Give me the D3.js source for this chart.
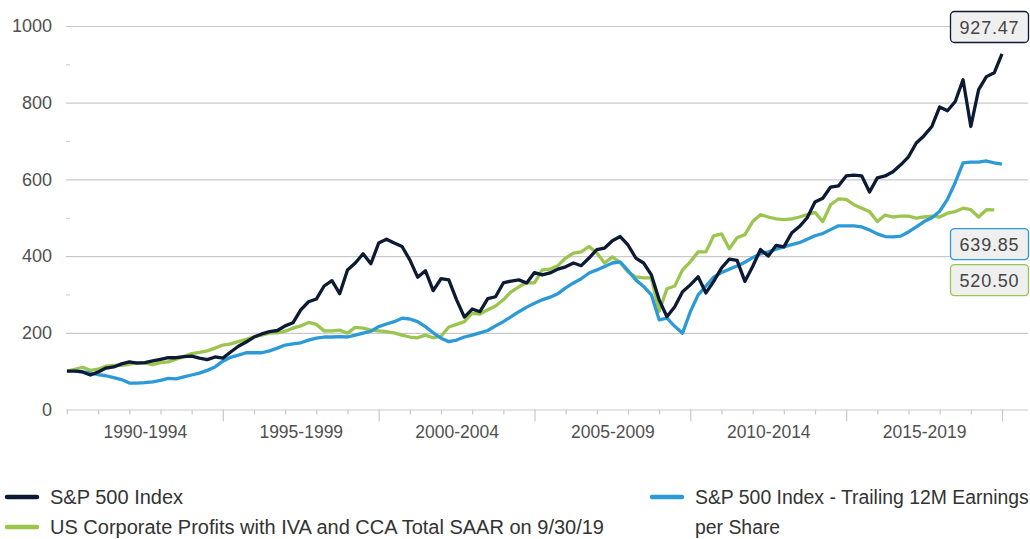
<!DOCTYPE html>
<html>
<head>
<meta charset="utf-8">
<script src="https://cdn.jsdelivr.net/npm/d3@7"></script>
<style>
  body { margin: 0; background: #fff; }
  svg { font-family: "Liberation Sans", Arial, sans-serif; }
</style>
</head>
<body>
<script>
// quarterly index values, start = 100
var periods = ["1990-1994", "1995-1999", "2000-2004", "2005-2009", "2010-2014", "2015-2019"];

var sp500 = [100, 100, 98, 90, 98, 108, 111, 119, 124, 121, 122, 127, 131, 135, 135, 138, 139, 134, 130, 137,
  134, 150, 165, 176, 189, 197, 203, 206, 218, 226, 260, 281, 288, 322, 336, 302, 364, 382, 406, 380,
  434, 444, 434, 425, 390, 345, 362, 310, 341, 338, 286, 241, 262, 255, 289, 294, 330, 335, 338, 330,
  357, 351, 356, 366, 372, 382, 375, 395, 417, 421, 440, 451, 429, 395, 382, 351, 286, 242, 268, 307,
  325, 346, 304, 334, 369, 392, 389, 334, 373, 417, 400, 428, 424, 460, 477, 500, 541, 551, 580, 583,
  609, 611, 609, 567, 604, 609, 620, 638, 659, 695, 714, 738, 789, 779, 803, 860, 738, 834, 868, 878,
  927.47];

var profits = [100, 105, 110, 102, 105, 113, 115, 115, 118, 122, 121, 117, 122, 124, 131, 138, 146, 149, 153, 160,
  168, 171, 177, 183, 189, 194, 199, 200, 204, 212, 218, 227, 222, 205, 205, 207, 199, 214, 212, 207,
  205, 203, 200, 194, 189, 187, 194, 187, 191, 215, 222, 229, 251, 249, 260, 270, 286, 307, 320, 331,
  330, 364, 366, 375, 395, 408, 411, 425, 408, 382, 398, 383, 359, 346, 343, 343, 256, 315, 322, 364,
  385, 411, 411, 453, 458, 419, 448, 456, 490, 508, 502, 497, 495, 497, 502, 508, 514, 490, 534, 549,
  548, 534, 525, 516, 490, 507, 502, 504, 504, 499, 502, 504, 502, 512, 516, 525, 521, 502, 521, 520.5];

// earnings series starts one quarter later
var earnings = [null, 101, 98, 95, 91, 88, 83, 78, 69, 69, 70, 72, 76, 81, 80, 85, 90, 95, 102, 111,
  126, 136, 142, 148, 148, 148, 153, 160, 168, 171, 174, 181, 186, 189, 189, 190, 189, 194, 199, 204,
  216, 223, 229, 238, 236, 229, 216, 200, 186, 177, 181, 189, 194, 200, 206, 218, 229, 242, 255, 267,
  277, 286, 293, 302, 317, 330, 341, 356, 364, 373, 382, 385, 362, 338, 321, 299, 234, 238, 217, 199,
  255, 299, 322, 345, 357, 366, 374, 384, 396, 406, 411, 418, 424, 430, 435, 444, 453, 459, 469, 479,
  479, 479, 476, 468, 458, 451, 450, 452, 463, 476, 490, 500, 517, 548, 592, 643, 645, 645, 648, 643,
  639.85];

var yTicks = [0, 200, 400, 600, 800, 1000];
var yMinor = [100, 300, 500, 700, 900];

var legendNames = ["S&P 500 Index", "US Corporate Profits with IVA and CCA Total SAAR on 9/30/19",
  "S&P 500 Index - Trailing 12M Earnings", "per Share"];

var cNavy = "#0c1a33", cGreen = "#9bc54e", cBlue = "#2b9ad6";

var width = 1030, height = 539;
var svg = d3.select("body").append("svg")
  .attr("width", width)
  .attr("height", height);

var x = d3.scaleLinear().domain([0, 120]).range([67, 1002]);
var y = d3.scaleLinear().domain([0, 1000]).range([409.5, 26]);
var left = 66, right = 1028;

// grid lines + y labels
var yAxis = svg.append("g")
  .attr("transform", "translate(" + left + ",0)")
  .call(d3.axisLeft(y).tickValues(yTicks).tickSize(-(right - left)).tickPadding(14).tickFormat(d3.format("d")));
yAxis.select(".domain").remove();
yAxis.selectAll("line").attr("stroke", "#c9c9c9").attr("stroke-width", 1.2);
yAxis.selectAll("text").attr("fill", "#505050").style("font-size", "18px");

var yMin = svg.append("g")
  .attr("transform", "translate(" + left + ",0)")
  .call(d3.axisLeft(y).tickValues(yMinor).tickSize(-4).tickFormat(""));
yMin.select(".domain").remove();
yMin.selectAll("line").attr("stroke", "#c9c9c9");

// x ticks: yearly, long ones every five years
var yearTicks = d3.range(0, 121, 4);
var xAxis = svg.append("g")
  .attr("transform", "translate(0," + y(0) + ")")
  .call(d3.axisBottom(x).tickValues(yearTicks).tickFormat(""));
xAxis.select(".domain").remove();
xAxis.selectAll("line")
  .attr("stroke", "#c9c9c9").attr("stroke-width", 1.2)
  .attr("y2", function(d) { return d % 20 == 0 && d > 0 ? 12 : 5; });

var xLab = svg.append("g")
  .attr("transform", "translate(0," + y(0) + ")")
  .call(d3.axisBottom(x).tickValues(d3.range(10, 120, 20)).tickSize(0).tickPadding(16)
    .tickFormat(function(d, i) { return periods[i]; }));
xLab.select(".domain").remove();
xLab.selectAll("text").attr("fill", "#505050").style("font-size", "17.5px");

// lines
var line = d3.line()
  .defined(function(d) { return d != null; })
  .x(function(d, i) { return x(i); })
  .y(function(d) { return y(d); });

[[profits, cGreen], [earnings, cBlue], [sp500, cNavy]].forEach(function(s) {
  svg.append("path")
    .datum(s[0])
    .attr("fill", "none")
    .attr("stroke", s[1])
    .attr("stroke-width", 3.3)
    .attr("stroke-linejoin", "round")
    .attr("d", line);
});

// end value boxes
var boxes = [
  {v: sp500[sp500.length - 1], c: cNavy, top: y(1000) - 15},
  {v: earnings[earnings.length - 1], c: cBlue, top: y(400) - 28},
  {v: profits[profits.length - 1], c: cGreen, top: y(400) + 8}
];
boxes.forEach(function(b) {
  var g = svg.append("g").attr("transform", "translate(950," + b.top + ")");
  g.append("rect")
    .attr("x", 0.5).attr("y", 0.5)
    .attr("width", 78).attr("height", 31)
    .attr("rx", 4)
    .attr("fill", "#efefef")
    .attr("stroke", b.c).attr("stroke-width", 1.3);
  g.append("text")
    .attr("x", 39.5).attr("y", 23)
    .attr("text-anchor", "middle")
    .attr("fill", "#444")
    .style("font-size", "18px")
    .style("letter-spacing", "0.8px")
    .text(d3.format(".2f")(b.v));
});

// legend
var leg = [
  {t: legendNames[0], c: cNavy, x: 7, y: 497, fs: 20},
  {t: legendNames[1], c: cGreen, x: 7, y: 527, fs: 20},
  {t: legendNames[2], c: cBlue, x: 652, y: 497, fs: 19.4}
];
leg.forEach(function(l) {
  svg.append("line")
    .attr("x1", l.x).attr("x2", l.x + 30)
    .attr("y1", l.y).attr("y2", l.y)
    .attr("stroke", l.c).attr("stroke-width", 4.5).attr("stroke-linecap", "round");
  svg.append("text")
    .attr("x", l.x + 43).attr("y", l.y + 7)
    .attr("fill", "#333")
    .style("font-size", l.fs + "px")
    .text(l.t);
});
svg.append("text")
  .attr("x", 695).attr("y", 527 + 7)
  .attr("fill", "#333")
  .style("font-size", "19.4px")
  .text(legendNames[3]);
</script>
</body>
</html>
